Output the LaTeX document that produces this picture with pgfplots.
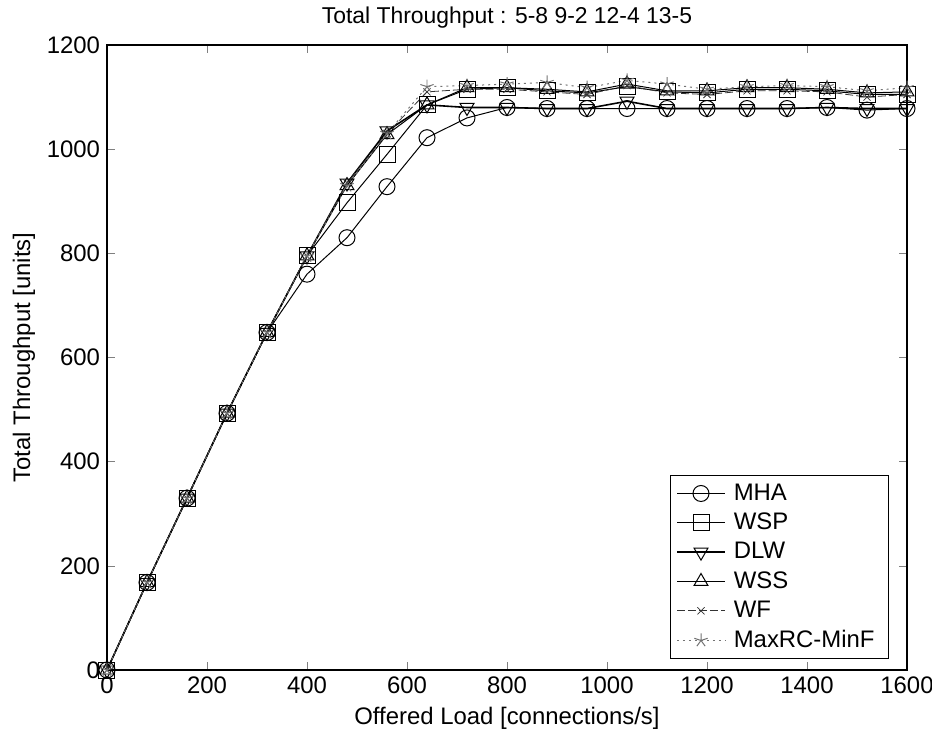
\documentclass[border=0pt]{standalone}
\usepackage{pgfplots}
\pgfplotsset{compat=1.18}
\usepackage{fontspec}
\setmainfont{Liberation Sans}

% offered load grid and the six series
\pgfplotstableread{
x    mha   wsp   dlw   wss   wf    maxrc
0    0     0     0     0     0     0
80   168   168   168   168   168   168
160  330   330   330   330   330   330
240  493   493   493   493   493   493
320  648   648   648   648   648   648
400  760   795   795   795   795   795
480  830   897   935   930   935   930
560  928   990   1035  1028  1030  1030
640  1022  1085  1085  1085  1110  1120
720  1060  1115  1080  1118  1115  1122
800  1080  1118  1080  1118  1115  1125
880  1078  1112  1078  1115  1110  1128
960  1078  1108  1078  1110  1105  1118
1040 1078  1120  1092  1125  1122  1132
1120 1078  1110  1078  1112  1108  1125
1200 1078  1108  1078  1112  1105  1115
1280 1078  1115  1078  1118  1112  1120
1360 1078  1115  1078  1118  1112  1122
1440 1080  1112  1080  1115  1110  1120
1520 1075  1105  1078  1108  1100  1112
1600 1078  1105  1078  1110  1105  1118
}\tput

\begin{document}
\begin{tikzpicture}
\begin{axis}[
  name=main,
  scale only axis, width=400bp, height=312.5bp,
  xmin=0, xmax=1600, ymin=0, ymax=1200,
  xtick={0,200,...,1600}, ytick={0,200,...,1200},
  tick align=inside, tick pos=both,
  major tick length=4bp,
  tick label style={font=\fontsize{12}{14}\selectfont},
  /pgf/number format/assume math mode=true,
  /pgf/number format/1000 sep={},
  title={Total Throughput : 5-8 9-2 12-4 13-5},
  title style={font=\fontsize{11.5}{13}\selectfont, yshift=-1bp},
  xlabel={Offered Load [connections/s]},
  ylabel={Total Throughput [units]},
  label style={font=\fontsize{12}{14}\selectfont},
  xlabel style={yshift=0bp},
  ylabel style={yshift=-1bp},
  legend style={at={(0.9775,0.0176)}, anchor=south east,
    font=\fontsize{12}{14}\selectfont, draw=black,
    row sep=0.9bp, inner xsep=3bp, inner ysep=2bp,
    nodes={inner xsep=4bp}},
  legend cell align=left,
  legend image code/.code={
    \draw[mark repeat=2, mark phase=2, #1]
      plot coordinates {(0bp,0bp) (12bp,0bp) (24bp,0bp)};},
  every axis plot/.append style={line width=0.5pt, mark size=4bp},
  axis line style={line width=0.6pt},
]
\addplot[black, mark=o] table[x=x, y=mha] {\tput};
\addlegendentry{MHA}
\addplot[black, mark=square] table[x=x, y=wsp] {\tput};
\addlegendentry{WSP}
\addplot[black, line width=0.8pt, mark=triangle, mark options={rotate=180, line width=0.5pt}] table[x=x, y=dlw] {\tput};
\addlegendentry{DLW}
\addplot[black, mark=triangle] table[x=x, y=wss] {\tput};
\addlegendentry{WSS}
\addplot[black!80, dash pattern=on 4pt off 1.5pt, line width=0.4pt, mark=x, mark size=2.5bp, mark options={solid}] table[x=x, y=wf] {\tput};
\addlegendentry{WF}
\addplot[black!55, dash pattern=on 1pt off 2pt, line width=0.5pt, mark=star, mark size=3.5bp, mark options={solid}] table[x=x, y=maxrc] {\tput};
\addlegendentry{MaxRC-MinF}
\end{axis}
\pgfresetboundingbox
\path ([shift={(-53.5bp,-34.5bp)}]main.south west) rectangle ([shift={(12.5bp,22.5bp)}]main.north east);
\end{tikzpicture}
\end{document}
